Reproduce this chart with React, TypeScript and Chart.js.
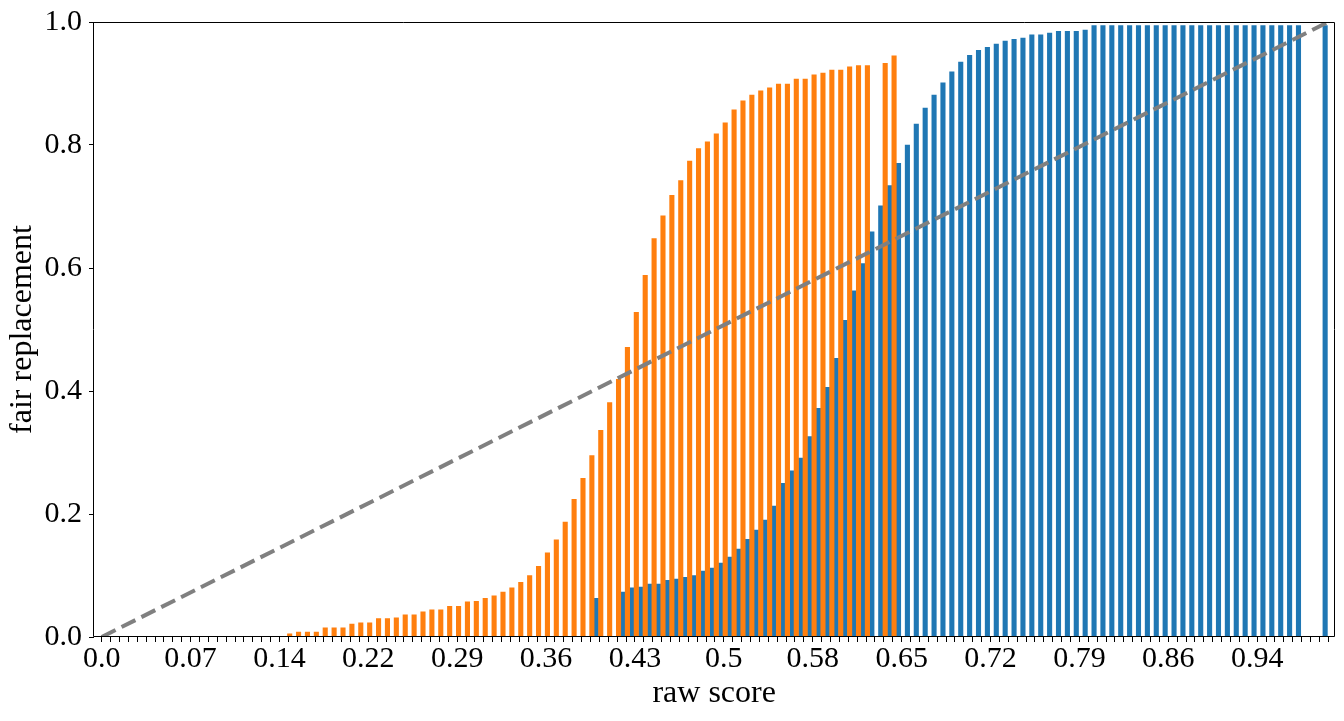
import React, { useEffect, useRef } from 'react';
import { Chart, registerables } from 'chart.js';

Chart.register(...registerables);

// ---- data ----
const binCount = 139;
const labelEvery = 10;
const tickLabels = ['0.0', '0.07', '0.14', '0.22', '0.29', '0.36', '0.43', '0.5', '0.58', '0.65', '0.72', '0.79', '0.86', '0.94'];
const yTickValues = [0, 0.2, 0.4, 0.6, 0.8, 1.0];

const orangeValues = [
  0, 0, 0, 0, 0, 0, 0, 0, 0, 0,
  0, 0, 0, 0, 0, 0, 0, 0, 0, 0,
  0, 0.005, 0.008, 0.008, 0.008, 0.015, 0.015, 0.015, 0.021, 0.023,
  0.023, 0.030, 0.030, 0.031, 0.036, 0.036, 0.041, 0.044, 0.044, 0.050,
  0.050, 0.057, 0.058, 0.063, 0.067, 0.073, 0.080, 0.089, 0.100, 0.115,
  0.137, 0.158, 0.187, 0.224, 0.258, 0.295, 0.336, 0.381, 0.419, 0.471,
  0.528, 0.588, 0.648, 0.685, 0.718, 0.742, 0.774, 0.794, 0.805, 0.818,
  0.836, 0.857, 0.872, 0.881, 0.888, 0.893, 0.899, 0.899, 0.907, 0.907,
  0.914, 0.917, 0.922, 0.922, 0.927, 0.929, 0.929, 0, 0.933, 0.945,
  0, 0, 0, 0, 0, 0, 0, 0, 0, 0,
  0, 0, 0, 0, 0, 0, 0, 0, 0, 0,
  0, 0, 0, 0, 0, 0, 0, 0, 0, 0,
  0, 0, 0, 0, 0, 0, 0, 0, 0, 0,
  0, 0, 0, 0, 0, 0, 0, 0, 0,
];

const blueValues = [
  0, 0, 0, 0, 0, 0, 0, 0, 0, 0,
  0, 0, 0, 0, 0, 0, 0, 0, 0, 0,
  0, 0, 0, 0, 0, 0, 0, 0, 0, 0,
  0, 0, 0, 0, 0, 0, 0, 0, 0, 0,
  0, 0, 0, 0, 0, 0, 0, 0, 0, 0,
  0, 0, 0, 0, 0, 0.063, 0, 0, 0.073, 0.080,
  0.081, 0.086, 0.086, 0.092, 0.094, 0.097, 0.100, 0.107, 0.112, 0.120,
  0.130, 0.143, 0.159, 0.174, 0.190, 0.213, 0.250, 0.270, 0.291, 0.326,
  0.372, 0.406, 0.453, 0.515, 0.563, 0.607, 0.659, 0.701, 0.734, 0.770,
  0.800, 0.834, 0.860, 0.881, 0.901, 0.919, 0.935, 0.946, 0.954, 0.959,
  0.964, 0.969, 0.972, 0.974, 0.979, 0.979, 0.982, 0.985, 0.985, 0.985,
  0.987, 0.994, 0.994, 0.994, 0.994, 0.994, 0.994, 0.994, 0.994, 0.994,
  0.994, 0.994, 0.994, 0.994, 0.994, 0.994, 0.994, 0.994, 0.994, 0.994,
  0.994, 0.994, 0.994, 0.994, 0.994, 0, 0, 0.994, 0,
];

const diagonalX = [0, 138];
const diagonalY = [0, 1];

// ---- styling ----
const FONT = "'Liberation Serif', 'Times New Roman', serif";
const ORANGE = '#ff7f0e';
const BLUE = '#1f77b4';
const GRAY = '#808080';
const BAR_SHIFT = 0.4;

export default function App() {
  const canvasRef = useRef<HTMLCanvasElement | null>(null);

  useEffect(() => {
    const canvas = canvasRef.current;
    if (!canvas) return;

    const framePlugin = {
      id: 'frame',
      afterDatasetsDraw(chart: any) {
        const { ctx, chartArea } = chart;
        const x0 = Math.floor(chartArea.left) - 0.5;
        const x1 = Math.floor(chartArea.right) + 0.5;
        const y0 = Math.floor(chartArea.top) + 0.5;
        const y1 = Math.floor(chartArea.bottom) - 0.5;
        ctx.save();
        ctx.strokeStyle = '#000';
        ctx.lineWidth = 1;
        ctx.beginPath();
        ctx.rect(x0, y0, x1 - x0, y1 - y0);
        ctx.stroke();
        ctx.restore();
      },
    };

    const indices = Array.from({ length: binCount }, (_, i) => i);

    const chart = new Chart(canvas, {
      type: 'bar',
      data: {
        datasets: [
          {
            type: 'line',
            data: diagonalX.map((x, i) => ({ x, y: diagonalY[i] })),
            borderColor: GRAY,
            borderWidth: 4,
            borderDash: [15.5, 6.7],
            borderCapStyle: 'butt',
            pointRadius: 0,
            fill: false,
            tension: 0,
            order: 0,
          } as any,
          {
            type: 'bar',
            data: orangeValues.map((y, i) => ({ x: i + BAR_SHIFT, y })),
            backgroundColor: ORANGE,
            borderWidth: 0,
            categoryPercentage: 1,
            barPercentage: 1,
            order: 1,
          } as any,
          {
            type: 'bar',
            data: blueValues.map((y, i) => ({ x: i + BAR_SHIFT, y })),
            backgroundColor: BLUE,
            borderWidth: 0,
            categoryPercentage: 1,
            barPercentage: 1,
            order: 1,
          } as any,
        ],
      },
      options: {
        responsive: false,
        animation: false,
        devicePixelRatio: 1,
        layout: { padding: { top: 21, right: 9.7, bottom: 0, left: 0 } },
        plugins: {
          legend: { display: false },
          tooltip: { enabled: false },
        },
        scales: {
          x: {
            type: 'linear',
            min: -0.866,
            max: 138.68,
            offset: false,
            afterBuildTicks: (scale: any) => {
              scale.ticks = indices.map((v) => ({ value: v }));
            },
            afterFit: (scale: any) => {
              scale.height = 84;
            },
            grid: {
              display: true,
              offset: false,
              drawOnChartArea: false,
              drawTicks: true,
              tickLength: 5,
              tickWidth: 1,
              tickColor: '#000',
            },
            border: { display: false },
            ticks: {
              autoSkip: false,
              maxRotation: 0,
              minRotation: 0,
              padding: 2,
              color: '#000',
              font: { family: FONT, size: 30, lineHeight: 1 },
              callback: (value: any) => {
                const v = Math.round(Number(value));
                return v % labelEvery === 0 ? tickLabels[v / labelEvery] ?? '' : '';
              },
            },
            title: {
              display: true,
              text: 'raw score',
              color: '#000',
              font: { family: FONT, size: 32, lineHeight: 1 },
              padding: { top: 0, bottom: 11 },
            },
          },
          y: {
            type: 'linear',
            min: 0,
            max: 1,
            afterBuildTicks: (scale: any) => {
              scale.ticks = yTickValues.map((v) => ({ value: v }));
            },
            afterFit: (scale: any) => {
              scale.width = 94;
            },
            grid: {
              display: true,
              drawOnChartArea: false,
              drawTicks: true,
              tickLength: 5,
              tickWidth: 1,
              tickColor: '#000',
            },
            border: { display: false },
            ticks: {
              padding: 7,
              color: '#000',
              font: { family: FONT, size: 30, lineHeight: 1 },
              callback: (value: any) => Number(value).toFixed(1),
            },
            title: {
              display: true,
              text: 'fair replacement',
              color: '#000',
              font: { family: FONT, size: 32, lineHeight: 1 },
              padding: { top: 7, bottom: 0 },
            },
          },
        },
      } as any,
      plugins: [framePlugin],
    });

    return () => {
      chart.destroy();
    };
  }, []);

  return (
    <div style={{ position: 'fixed', left: 0, top: 0, width: 1344, height: 721, background: '#fff' }}>
      <canvas ref={canvasRef} width={1344} height={721} style={{ width: 1344, height: 721, display: 'block' }} />
    </div>
  );
}
